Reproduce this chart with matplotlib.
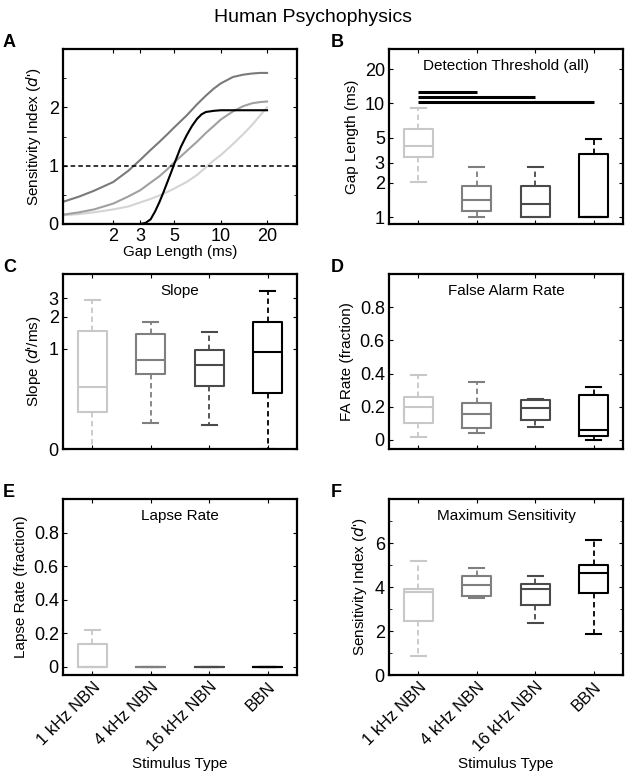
import matplotlib
matplotlib.use('Agg')
import matplotlib.pyplot as plt
from matplotlib.ticker import NullLocator, FixedLocator

plt.rcParams['font.family'] = ['Liberation Sans', 'DejaVu Sans']
plt.rcParams['font.size'] = 11

# ---- data ----
stimuli = ['1 kHz NBN', '4 kHz NBN', '16 kHz NBN', 'BBN']
box_colors = ['#c8c8c8', '#7f7f7f', '#4a4a4a', '#000000']

# panel A: fitted psychometric curves (gap length in ms, d')
gap_ms = [0.943, 1.2, 1.5, 2, 2.5, 3, 3.5, 4, 4.5, 5, 6, 7, 8, 9, 10, 12, 14, 16, 18, 20]
dprime_dark = [0.38, 0.47, 0.57, 0.72, 0.91, 1.10, 1.27, 1.41, 1.54, 1.66,
               1.86, 2.05, 2.20, 2.32, 2.41, 2.52, 2.56, 2.58, 2.59, 2.59]
dprime_mid = [0.16, 0.20, 0.25, 0.35, 0.47, 0.58, 0.71, 0.82, 0.94, 1.06,
              1.25, 1.41, 1.56, 1.68, 1.79, 1.93, 2.02, 2.07, 2.09, 2.10]
dprime_light = [0.15, 0.17, 0.20, 0.25, 0.30, 0.37, 0.43, 0.49, 0.55, 0.61,
                0.72, 0.84, 0.97, 1.09, 1.18, 1.37, 1.54, 1.70, 1.86, 2.00]
gap_black = [0.943, 3.0, 3.25, 3.5, 3.75, 4.0, 4.25, 4.5, 4.75, 5.0, 5.5, 6.0,
             6.5, 7.0, 7.5, 8, 9, 10, 20]
dprime_black = [0.0, 0.0, 0.02, 0.08, 0.22, 0.38, 0.55, 0.72, 0.88, 1.04, 1.32, 1.52,
                1.68, 1.80, 1.88, 1.92, 1.94, 1.95, 1.95]

# box stats: whisker low, q1, median, q3, whisker high
thr_stats = [[2.03, 3.39, 4.2, 5.94, 9.05],
             [1.0, 1.14, 1.40, 1.88, 2.77],
             [1.0, 1.0, 1.30, 1.88, 2.77],
             [1.0, 1.0, 1.0, 3.55, 4.86]]
sig_pairs = [(1, 2), (1, 3), (1, 4)]
sig_heights = [12.5, 11.3, 10.2]

slope_stats = [[0.0, 0.37, 0.62, 1.48, 2.88],
               [0.26, 0.75, 0.89, 1.38, 1.77],
               [0.24, 0.63, 0.84, 0.99, 1.44],
               [0.0, 0.56, 0.97, 1.77, 3.52]]

fa_stats = [[0.02, 0.10, 0.198, 0.26, 0.39],
            [0.04, 0.074, 0.158, 0.224, 0.346],
            [0.08, 0.122, 0.19, 0.238, 0.246],
            [0.0, 0.026, 0.062, 0.272, 0.32]]

lapse_stats = [[0.0, 0.0, 0.0, 0.132, 0.22],
               [0.0, 0.0, 0.0, 0.0, 0.0],
               [0.0, 0.0, 0.0, 0.0, 0.0],
               [0.0, 0.0, 0.0, 0.0, 0.0]]

maxsens_stats = [[0.85, 2.47, 3.78, 3.93, 5.19],
                 [3.51, 3.57, 4.11, 4.52, 4.86],
                 [2.38, 3.2, 3.92, 4.14, 4.48],
                 [1.87, 3.72, 4.64, 5.0, 6.14]]


def style_axes(ax):
    for s in ax.spines.values():
        s.set_linewidth(1.6)
    ax.tick_params(direction='in', top=True, right=True, length=3, width=0.8,
                   labelsize=13, pad=3)
    ax.tick_params(which='minor', direction='in', top=True, right=True, length=2)


def draw_boxes(ax, stats):
    for i, (st, c) in enumerate(zip(stats, box_colors)):
        d = dict(whislo=st[0], q1=st[1], med=st[2], q3=st[3], whishi=st[4], fliers=[])
        ax.bxp([d], positions=[i + 1], widths=0.5, capwidths=0.25, showfliers=False,
               boxprops=dict(color=c, linewidth=1.5),
               medianprops=dict(color=c, linewidth=1.5),
               whiskerprops=dict(color=c, linewidth=1.3, linestyle=(0, (3, 2))),
               capprops=dict(color=c, linewidth=1.5),
               manage_ticks=False)
    ax.set_xlim(0.5, 4.5)
    ax.set_xticks([1, 2, 3, 4])
    ax.set_xticklabels([])


W, H = 625, 775
fig = plt.figure(figsize=(6.25, 7.75), dpi=100)


def add_ax(x0, y_top, y_bot):
    return fig.add_axes([x0 / W, 1 - y_bot / H, 234 / W, (y_bot - y_top) / H])


axA = add_ax(63, 49, 224)
axB = add_ax(389, 49, 224)
axC = add_ax(63, 274, 449)
axD = add_ax(389, 274, 449)
axE = add_ax(63, 499, 675)
axF = add_ax(389, 499, 675)

fig.text(0.5, 1 - 22 / H, 'Human Psychophysics', ha='center', va='baseline', fontsize=14)
for ax, lab, x in [(axA, 'A', 3), (axB, 'B', 331), (axC, 'C', 3), (axD, 'D', 331),
                   (axE, 'E', 3), (axF, 'F', 331)]:
    top = (1 - ax.get_position().y1) * H
    fig.text(x / W, 1 - (top - 2) / H, lab, fontsize=13, fontweight='bold', va='baseline')

# ---- A ----
axA.plot(gap_ms, dprime_light, color='#d4d4d4', lw=1.5)
axA.plot(gap_ms, dprime_mid, color='#a0a0a0', lw=1.5)
axA.plot(gap_ms, dprime_dark, color='#7a7a7a', lw=1.5)
axA.plot(gap_black, dprime_black, color='black', lw=1.5)
axA.axhline(1, color='black', lw=1.1, linestyle=(0, (3, 2)))
axA.set_xscale('log')
axA.set_xlim(0.943, 31.3)
axA.set_ylim(0, 3)
axA.xaxis.set_major_locator(FixedLocator([2, 3, 5, 10, 20]))
axA.xaxis.set_minor_locator(NullLocator())
axA.set_xticklabels(['2', '3', '5', '10', '20'])
axA.set_yticks([0, 1, 2])
axA.set_yticks([0.5, 1.5, 2.5], minor=True)
axA.set_xlabel('Gap Length (ms)', labelpad=0)
axA.set_ylabel("Sensitivity Index ($d$')")
style_axes(axA)

# ---- B ----
draw_boxes(axB, thr_stats)
for (a, b), h in zip(sig_pairs, sig_heights):
    axB.plot([a, b], [h, h], color='black', lw=2.2, solid_capstyle='butt')
axB.set_yscale('log')
axB.set_ylim(0.87, 30)
axB.yaxis.set_major_locator(FixedLocator([1, 2, 3, 5, 10, 20]))
axB.yaxis.set_minor_locator(NullLocator())
axB.set_yticklabels(['1', '2', '3', '5', '10', '20'])
axB.set_ylabel('Gap Length (ms)')
axB.set_title('Detection Threshold (all)', y=1, pad=-15, fontsize=11)
style_axes(axB)

# ---- C ----
draw_boxes(axC, slope_stats)
axC.set_yscale('symlog', linthresh=1, linscale=0.85)
axC.set_ylim(0, 5.07)
axC.yaxis.set_major_locator(FixedLocator([0, 1, 2, 3]))
axC.yaxis.set_minor_locator(NullLocator())
axC.set_yticklabels(['0', '1', '2', '3'])
axC.set_ylabel("Slope ($d$'/ms)")
axC.set_title('Slope', y=1, pad=-15, fontsize=11)
style_axes(axC)

# ---- D ----
draw_boxes(axD, fa_stats)
axD.set_ylim(-0.055, 1.0)
axD.set_yticks([0, 0.2, 0.4, 0.6, 0.8])
axD.set_yticklabels(['0', '0.2', '0.4', '0.6', '0.8'])
axD.set_ylabel('FA Rate (fraction)')
axD.set_title('False Alarm Rate', y=1, pad=-15, fontsize=11)
style_axes(axD)

# ---- E ----
draw_boxes(axE, lapse_stats)
axE.set_ylim(-0.05, 1.0)
axE.set_yticks([0, 0.2, 0.4, 0.6, 0.8])
axE.set_yticklabels(['0', '0.2', '0.4', '0.6', '0.8'])
axE.set_ylabel('Lapse Rate (fraction)')
axE.set_title('Lapse Rate', y=1, pad=-15, fontsize=11)
style_axes(axE)
axE.set_xticklabels(stimuli, rotation=45, ha='right', rotation_mode='anchor', fontsize=12)
axE.set_xlabel('Stimulus Type', labelpad=2)

# ---- F ----
draw_boxes(axF, maxsens_stats)
axF.set_ylim(0, 8)
axF.set_yticks([0, 2, 4, 6])
axF.set_yticks([1, 3, 5, 7], minor=True)
axF.set_ylabel("Sensitivity Index ($d$')")
axF.set_title('Maximum Sensitivity', y=1, pad=-15, fontsize=11)
style_axes(axF)
axF.set_xticklabels(stimuli, rotation=45, ha='right', rotation_mode='anchor', fontsize=12)
axF.set_xlabel('Stimulus Type', labelpad=2)

fig.savefig('out.png', dpi=100)
